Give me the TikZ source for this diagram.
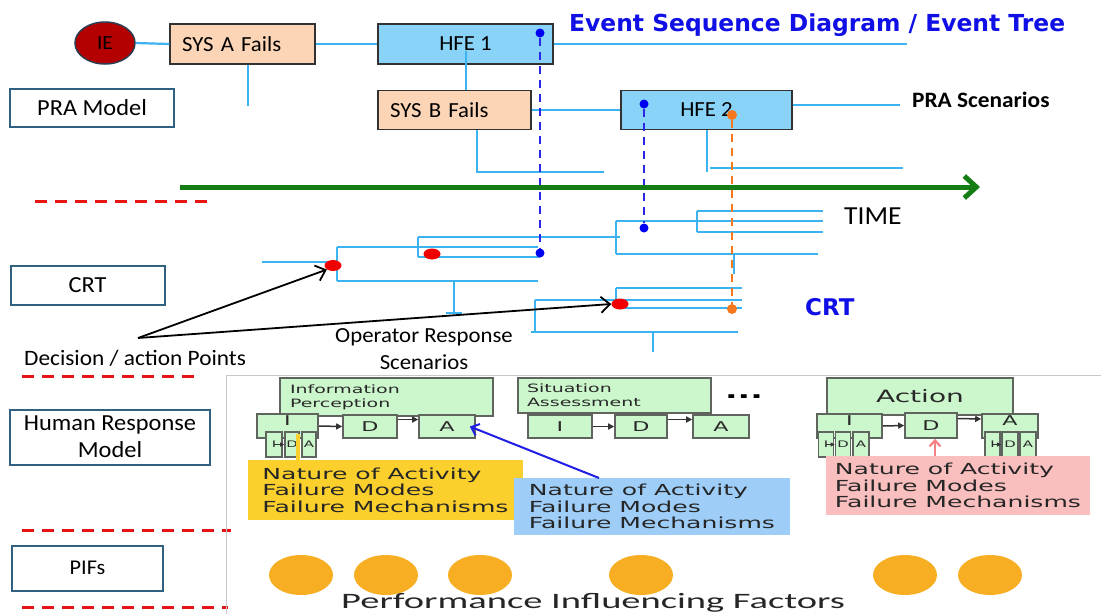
\documentclass[tikz,border=0pt]{standalone}
\usepackage{fontspec}
\setmainfont{Carlito}[FakeStretch=1.06]
\newfontfamily\dvs{DejaVu Sans}
\newfontfamily\wide{DejaVu Sans}[FakeStretch=1.65]
\newfontfamily\pif{Carlito}[FakeStretch=1.75]
\usetikzlibrary{shapes.geometric,arrows.meta}
\newcommand\fsz[2]{\fontsize{#1}{#2}\selectfont}
\definecolor{peach}{RGB}{251,213,181}
\definecolor{hfeblue}{RGB}{137,210,248}
\definecolor{crtb}{RGB}{60,178,240}
\definecolor{labb}{RGB}{49,96,128}
\definecolor{boxb}{RGB}{50,50,50}
\definecolor{iered}{RGB}{180,0,0}
\definecolor{iebd}{RGB}{44,62,80}
\definecolor{ttlblue}{RGB}{16,16,230}
\definecolor{dashblue}{RGB}{40,40,230}
\definecolor{dotblue}{RGB}{0,0,240}
\definecolor{orng}{RGB}{245,120,30}
\definecolor{reddot}{RGB}{240,0,0}
\definecolor{grn}{RGB}{20,125,20}
\definecolor{sepred}{RGB}{232,20,20}
\definecolor{lgreen}{RGB}{204,246,204}
\definecolor{gbord}{RGB}{95,100,95}
\definecolor{ycall}{RGB}{252,208,44}
\definecolor{bcall}{RGB}{158,206,248}
\definecolor{pcall}{RGB}{249,190,190}
\definecolor{pifcol}{RGB}{248,174,34}
\definecolor{panelc}{RGB}{200,200,200}
\definecolor{txtgray}{RGB}{40,40,40}
\definecolor{bluearr}{RGB}{30,30,230}
\definecolor{pinkarr}{RGB}{245,130,130}
\tikzset{
  sys/.style={draw=boxb, line width=1.4, fill=peach, inner xsep=12, inner ysep=0, align=left, font=\fsz{21.5}{26}},
  hfe/.style={draw=boxb, line width=1.4, fill=hfeblue, inner sep=0, font=\fsz{21.5}{26}},
  lab/.style={draw=labb, line width=2, fill=white, inner sep=0, align=center, font=\fsz{23}{27}},
  br/.style={draw=crtb, line width=2.2},
  bdash/.style={draw=dashblue, line width=2, dash pattern=on 8 off 6},
  odash/.style={draw=orng, line width=2, dash pattern=on 8 off 6},
  bdot/.style={circle, fill=dotblue, inner sep=0, minimum size=9},
  odot/.style={circle, fill=orng, inner sep=0, minimum size=10},
  rdot/.style={ellipse, fill=reddot, inner sep=0, minimum width=17, minimum height=11},
  sepl/.style={draw=sepred, line width=3, dash pattern=on 12 off 8},
  gbox/.style={draw=gbord, fill=lgreen, line width=1.6, inner sep=0, font=\wide\fsz{13.5}{15}, text=txtgray},
  sbox/.style={gbox, minimum height=25, font=\wide\fsz{9}{10}},
  darr/.style={draw=black!80, line width=1.5, -{Triangle[length=6,width=6]}},
  tarr/.style={draw=black!80, line width=1, -{Triangle[length=4,width=4]}},
  call/.style={inner sep=0, align=left, font=\wide\fsz{15.2}{16.5}, text=black!85},
  pifc/.style={ellipse, fill=pifcol, minimum width=64, minimum height=40, inner sep=0},
  blk/.style={draw=black, line width=1.8, -{Straight Barb[length=9,width=16]}},
  txt/.style={inner sep=0, anchor=base west},
}
\begin{document}
\begin{tikzpicture}[x=1pt,y=-1pt]
\useasboundingbox[fill=white] (0,0) rectangle (1101,614);

% separators
\draw[sepl] (35,201) -- (214,201);
\draw[sepl] (22,376) -- (200,376);
\draw[sepl] (22,530) -- (231,530);
\draw[sepl] (22,607) -- (228,607);

% panel frame
\draw[draw=panelc, line width=1] (226,614) -- (226,375) -- (1101,375);

% left labels
\node[lab, minimum width=164, minimum height=38] (pra) at (92,108) {PRA Model};
\node[lab, minimum width=154, minimum height=39] (crtl) at (87.5,285.5) {CRT};
\node[lab, minimum width=200, minimum height=55] (hrm) at (110,437) {Human Response\\Model};
\node[lab, minimum width=151, minimum height=45, font=\fsz{21}{25}] (pifl) at (87.5,568) {PIFs};

% title and texts
\node[txt, font=\dvs\bfseries\fsz{23.4}{27}, text=ttlblue] (title) at (569,31) {Event Sequence Diagram / Event Tree};
\node[txt, font=\bfseries\fsz{22}{26}] (prasc) at (912,107) {PRA Scenarios};
\node[txt, font=\fsz{26}{30}] (time) at (844,224) {TIME};
\node[txt, font=\dvs\bfseries\fsz{23}{28}, text=ttlblue] (crtt) at (805,315) {CRT};
\node[txt, font=\fsz{22}{26}] (dap) at (24,365) {Decision / action Points};
\node[inner sep=0, align=center, font=\fsz{21.5}{27}] (ors) at (424,349) {Operator Response\\Scenarios};

% ===== PRA top row =====
\coordinate (e1) at (907,44);
\coordinate (sa1) at (248,106);
\coordinate (h1s) at (466,51);
\coordinate (e2) at (900,105);
\coordinate (sb1) at (477,172);
\coordinate (sb2) at (604,172);
\coordinate (h2s) at (707,172);
\coordinate (h2a) at (710,168);
\coordinate (h2b) at (903,168);

\node[ellipse, draw=iebd, line width=1.5, fill=iered, minimum width=60, minimum height=42, inner sep=0, font=\fsz{20}{24}] (ie) at (105,43) {IE};
\node[sys, minimum height=40, text width=121] (sysa) at (242.5,44) {SYS A Fails};
\node[hfe, minimum width=175, minimum height=40] (hfe1) at (465.5,44) {HFE 1};
\node[sys, minimum height=39, text width=129] (sysb) at (454.5,110) {SYS B Fails};
\node[hfe, minimum width=171, minimum height=39] (hfe2) at (706.5,110) {HFE 2};

\draw[br] (ie.east) -- (sysa.west);
\draw[br] (sysa.east) -- (hfe1.west);
\draw[br] (hfe1.east) -- (e1);
\draw[br] (sysa.south -| sa1) -- (sa1);
\draw[br] (h1s) -- (h1s |- sysb.north);
\draw[br] (sysb.east) -- (hfe2.west);
\draw[br] (hfe2.east |- e2) -- (e2);
\draw[br] (sysb.south -| sb1) -- (sb1) -- (sb2);
\draw[br] (hfe2.south -| h2s) -- (h2s);
\draw[br] (h2a) -- (h2b);

% ===== CRT tree =====
\draw[br] (262,262) -- (330,262);
\draw[br] (337,247) -- (337,281);
\draw[br] (337,247) -- (538,247);
\draw[br] (337,281) -- (538,281);
\draw[br] (418,237) -- (418,257);
\draw[br] (418,237) -- (620,237);
\draw[br] (418,257) -- (540,257);
\draw[br] (454,281) -- (454,313);
\draw[br] (446,313) -- (462,313);
\draw[br] (616,221) -- (616,254);
\draw[br] (616,221) -- (697,221);
\draw[br] (616,254) -- (818,254);
\draw[br] (697,211) -- (697,232);
\draw[br] (697,211) -- (823,211);
\draw[br] (697,221) -- (823,221);
\draw[br] (697,232) -- (823,232);
\draw[br] (734,254) -- (734,274);
\draw[br] (535,300) -- (535,332);
\draw[br] (535,300) -- (742,300);
\draw[br] (531,332) -- (738,332);
\draw[br] (653,332) -- (653,352);
\draw[br] (616,288) -- (616,308);
\draw[br] (616,288) -- (742,288);
\draw[br] (616,308) -- (742,308);

% dots
\node[bdot] (hd1) at (540,33) {};
\node[bdot] (cd1) at (540,253) {};
\node[bdot] (hd2) at (644,104) {};
\node[bdot] (cd2) at (644,228) {};
\node[odot] (od1) at (732,115) {};
\node[odot] (od2) at (732,309) {};
\draw[bdash] (hd1) -- (cd1);
\draw[bdash] (hd2) -- (cd2);
\draw[odash] (od1) -- (od2);
\node[rdot] (rd1) at (333,265.5) {};
\node[rdot] (rd2) at (432,254) {};
\node[rdot] (rd3) at (620,304) {};

% time arrow
\coordinate (ts) at (180,187);
\coordinate (te) at (980,187);
\draw[draw=grn, line width=5, -{Straight Barb[length=12,width=22]}] (ts) -- (te);

% decision arrows
\coordinate (apex) at (138,338);
\draw[blk] (apex) -- (rd1.south west);
\draw[blk] (apex) -- (rd3.west);

% ===== Human response model =====
\node[gbox, minimum width=213, minimum height=38, text width=193, inner xsep=10, align=left, font=\wide\fsz{11.5}{14}] (ip) at (386.5,397) {Information\\Perception};
\node[gbox, minimum width=193, minimum height=35, text width=175, inner xsep=9, align=left, font=\wide\fsz{11.5}{14}] (sa) at (614.5,395.5) {Situation\\Assessment};
\node[gbox, minimum width=186, minimum height=37, font=\wide\fsz{17}{20}] (act) at (920,396.5) {Action};
\node[inner sep=0, font=\wide\bfseries\fsz{20}{20}] (dots) at (744,397) {...};

% group 1
\node[gbox, minimum width=61, minimum height=24] (i1) at (287.5,426) {};
\node[inner sep=0, font=\wide\fsz{13.5}{15}, text=txtgray] (i1l) at (287.5,421) {I};
\node[gbox, minimum width=54, minimum height=23] (d1) at (370,426.5) {D};
\node[gbox, minimum width=56, minimum height=23] (a1) at (447,426.5) {A};
\node[sbox, minimum width=16] (s11) at (274,444.5) {I};
\node[sbox, minimum width=14] (s12) at (292,444.5) {D};
\node[sbox, minimum width=14] (s13) at (309,444.5) {A};
\draw[tarr] (s11.center) -- (s12.west);
\draw[darr] (i1.east) -- (d1.west);
\draw[darr] ([yshift=7]d1.east) -- ([yshift=7]a1.west);

% group 2
\node[gbox, minimum width=64, minimum height=23] (i2) at (560,426.5) {I};
\node[gbox, minimum width=52, minimum height=23] (d2) at (641,426.5) {D};
\node[gbox, minimum width=56, minimum height=23] (a2) at (721,426.5) {A};
\draw[darr] (i2.east) -- (d2.west);
\draw[darr] ([yshift=7]d2.east) -- ([yshift=7]a2.west);

% group 3
\node[gbox, minimum width=65, minimum height=24] (i3) at (849.5,426) {};
\node[inner sep=0, font=\wide\fsz{13.5}{15}, text=txtgray] (i3l) at (849.5,421) {I};
\node[gbox, minimum width=52, minimum height=25] (d3) at (931,425.5) {D};
\node[gbox, minimum width=56, minimum height=24] (a3) at (1010,426) {};
\node[inner sep=0, font=\wide\fsz{13.5}{15}, text=txtgray] (a3l) at (1010,421) {A};
\node[sbox, minimum width=15] (s31) at (826,444.5) {I};
\node[sbox, minimum width=15] (s32) at (843,444.5) {D};
\node[sbox, minimum width=16] (s33) at (861,444.5) {A};
\node[sbox, minimum width=15] (s41) at (992.5,444.5) {I};
\node[sbox, minimum width=16] (s42) at (1010,444.5) {D};
\node[sbox, minimum width=16] (s43) at (1028,444.5) {A};
\draw[tarr] (s31.center) -- (s32.west);
\draw[tarr] (s41.center) -- (s42.west);
\draw[darr] (i3.east) -- (d3.west);
\draw[darr] ([yshift=7]d3.east) -- ([yshift=7]a3.west);

% callouts
\node[call, fill=ycall, minimum width=275, minimum height=60] (yc) at (385.5,490) {Nature of Activity\\Failure Modes\\Failure Mechanisms};
\node[call, fill=bcall, minimum width=276, minimum height=57] (bc) at (652,506.5) {Nature of Activity\\Failure Modes\\Failure Mechanisms};
\node[call, fill=pcall, minimum width=264, minimum height=59] (pc) at (958,485.5) {Nature of Activity\\Failure Modes\\Failure Mechanisms};

\coordinate (yct) at (298,460);
\coordinate (ycb) at (298,434);
\draw[draw=ycall, line width=4] (yct) -- (ycb);
\coordinate (bct) at (599,478);
\draw[draw=bluearr, line width=2, -{Straight Barb[length=7,width=12]}] (bct) -- ([xshift=-6]a1.east);
\coordinate (pct) at (935,456);
\draw[draw=pinkarr, line width=2.2, -{Straight Barb[length=6,width=11]}] (pct) -- (pct |- d3.south);

% ===== PIFs =====
\node[pifc] (p1) at (301,575) {};
\node[pifc] (p2) at (386,575) {};
\node[pifc] (p3) at (480,575) {};
\node[pifc] (p4) at (641,575) {};
\node[pifc] (p5) at (905,575) {};
\node[pifc] (p6) at (990,575) {};
\node[txt, font=\pif\fsz{22}{26}, text=black!85] (pift) at (341,608) {Performance Influencing Factors};
\end{tikzpicture}
\end{document}
